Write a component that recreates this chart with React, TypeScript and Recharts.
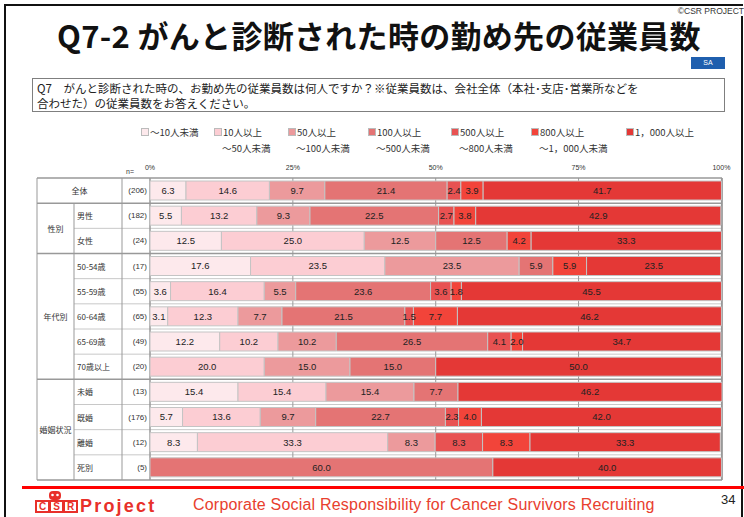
import React from 'react';
import { BarChart, Bar, XAxis, YAxis, CartesianGrid, LabelList } from 'recharts';

// rows of the table (label, n)
const rowLabels = ['全体', '男性', '女性', '50-54歳', '55-59歳', '60-64歳', '65-69歳', '70歳以上', '未婚', '既婚', '離婚', '死別'];
const rowN = [206, 182, 24, 17, 55, 65, 49, 20, 13, 176, 12, 5];

// groups spanning several rows: [label, firstRow, lastRowExclusive]
const groupLabels = ['性別', '年代別', '婚姻状況'];
const groupStart = [1, 3, 8];
const groupEnd = [3, 8, 12];

// percentages per employee-size class
const under10 = [6.3, 5.5, 12.5, 17.6, 3.6, 3.1, 12.2, 0, 15.4, 5.7, 8.3, 0];
const from10 = [14.6, 13.2, 25.0, 23.5, 16.4, 12.3, 10.2, 20.0, 15.4, 13.6, 33.3, 0];
const from50 = [9.7, 9.3, 12.5, 23.5, 5.5, 7.7, 10.2, 15.0, 15.4, 9.7, 8.3, 0];
const from100 = [21.4, 22.5, 12.5, 5.9, 23.6, 21.5, 26.5, 15.0, 7.7, 22.7, 0, 60.0];
const from500 = [2.4, 2.7, 0, 0, 3.6, 1.5, 4.1, 0, 0, 2.3, 8.3, 0];
const from800 = [3.9, 3.8, 4.2, 5.9, 1.8, 7.7, 2.0, 0, 0, 4.0, 8.3, 0];
const over1000 = [41.7, 42.9, 33.3, 23.5, 45.5, 46.2, 34.7, 50.0, 46.2, 42.0, 33.3, 40.0];

const seriesKeys = ['s1', 's2', 's3', 's4', 's5', 's6', 's7'];
const seriesValues = [under10, from10, from50, from100, from500, from800, over1000];
const legendLine1 = ['～10人未満', '10人以上', '50人以上', '100人以上', '500人以上', '800人以上', '1，000人以上'];
const legendLine2 = ['', '～50人未満', '～100人未満', '～500人未満', '～800人未満', '～1，000人未満', ''];
const xTicks = [0, 25, 50, 75, 100];

const COLORS = ['#fde9ec', '#fccdd3', '#ec9a9c', '#e47474', '#e85252', '#f2443a', '#e43836'];
const LEGEND_X = [141, 214, 288, 368, 451, 531, 626];

const JP = '"Noto Sans CJK JP", "Noto Sans", sans-serif';
const NUM = '"Liberation Sans", Arial, sans-serif';
const RED = '#e8302a';

const PLOT_TOP = 178;
const PLOT_BOTTOM = 480;
const PITCH = (PLOT_BOTTOM - PLOT_TOP) / rowLabels.length;

const data = rowLabels.map((label, i) => {
  const row: any = { label };
  seriesKeys.forEach((k, j) => {
    row[k] = seriesValues[j][i];
  });
  return row;
});

const RowTick = ({ y, payload }: any) => {
  const i = rowLabels.indexOf(payload.value);
  return (
    <g>
      <text
        x={i === 0 ? 79.5 : 77}
        y={y}
        textAnchor={i === 0 ? 'middle' : 'start'}
        dominantBaseline="central"
        fontSize={8}
        fontFamily={JP}
        fill="#333"
      >
        {rowLabels[i]}
      </text>
      <text x={147} y={y} textAnchor="end" dominantBaseline="central" fontSize={8} fontFamily={NUM} fill="#333">
        ({rowN[i]})
      </text>
    </g>
  );
};

const TableLines = () => {
  const groupEdges = [0, 1, 3, 8, 12];
  const lines = [];
  for (let i = 0; i <= rowLabels.length; i++) {
    const y = PLOT_TOP + i * PITCH;
    const isGroup = groupEdges.includes(i);
    lines.push(
      <line key={'h' + i} x1={isGroup ? 37 : 74} x2={722} y1={y} y2={y} stroke={isGroup ? '#999' : '#c8c8c8'} strokeWidth={isGroup ? 1.5 : 1} />
    );
  }
  return (
    <svg width={744} height={517} style={{ position: 'absolute', left: 0, top: 0 }}>
      {lines}
      <line x1={37} x2={37} y1={PLOT_TOP} y2={PLOT_BOTTOM} stroke="#999" />
      <line x1={74} x2={74} y1={PLOT_TOP + PITCH} y2={PLOT_BOTTOM} stroke="#999" />
      <line x1={122} x2={122} y1={PLOT_TOP} y2={PLOT_BOTTOM} stroke="#999" />
      <line x1={150} x2={150} y1={PLOT_TOP} y2={PLOT_BOTTOM} stroke="#999" />
      <line x1={722} x2={722} y1={PLOT_TOP} y2={PLOT_BOTTOM} stroke="#999" strokeWidth={1.5} />
      {groupLabels.map((g, i) => (
        <text
          key={g}
          x={55.5}
          y={PLOT_TOP + ((groupStart[i] + groupEnd[i]) / 2) * PITCH}
          textAnchor="middle"
          dominantBaseline="central"
          fontSize={8}
          fontFamily={JP}
          fill="#333"
        >
          {g}
        </text>
      ))}
      <text x={126} y={174} fontSize={7} fontFamily={NUM} fill="#333">n=</text>
    </svg>
  );
};

const ChartLegend = () => (
  <div>
    {legendLine1.map((name, i) => (
      <div key={name} style={{ position: 'absolute', left: LEGEND_X[i], top: 124, fontFamily: JP, fontSize: 9.5, color: '#333', lineHeight: '16px', whiteSpace: 'nowrap' }}>
        <span style={{ display: 'inline-block', width: 6, height: 6, background: COLORS[i], border: '1px solid #bbb', marginRight: 1, verticalAlign: 'middle', position: 'relative', top: -1 }} />
        {name}
        {legendLine2[i] && <div style={{ paddingLeft: 8 }}>{legendLine2[i]}</div>}
      </div>
    ))}
  </div>
);

export default function App() {
  return (
    <div style={{ position: 'absolute', left: 0, top: 0, width: 744, height: 517, background: '#fff', overflow: 'hidden', fontFamily: JP }}>
      {/* slide frame */}
      <div style={{ position: 'absolute', left: 4, top: 4, width: 735, height: 600, border: '2px solid #111' }} />
      <div style={{ position: 'absolute', left: 0, width: 758, top: 15, textAlign: 'center', fontSize: 31, fontWeight: 700, color: '#111', lineHeight: '40px', letterSpacing: 0.3 }}>
        Q7-2 がんと診断された時の勤め先の従業員数
      </div>
      <div style={{ position: 'absolute', right: 0, top: 6, fontSize: 8.5, fontFamily: NUM, color: '#333', background: '#fff', paddingLeft: 2, lineHeight: '10px' }}>©CSR PROJECT</div>
      <div style={{ position: 'absolute', left: 691, top: 57, width: 34, height: 12, background: '#1f5fae', color: '#fff', fontSize: 7, fontFamily: NUM, textAlign: 'center', lineHeight: '12px' }}>SA</div>
      <div style={{ position: 'absolute', left: 32, top: 78, width: 693, height: 34, border: '1px solid #7f7f7f', boxSizing: 'border-box' }} />
      <div style={{ position: 'absolute', left: 37, top: 81, fontSize: 11.5, lineHeight: '14px', color: '#222', whiteSpace: 'nowrap' }}>
        Q7　がんと診断された時の、お勤め先の従業員数は何人ですか？※従業員数は、会社全体（本社･支店･営業所などを
      </div>
      <div style={{ position: 'absolute', left: 37, top: 96, fontSize: 11.5, lineHeight: '14px', color: '#222', whiteSpace: 'nowrap' }}>
        合わせた）の従業員数をお答えください。
      </div>

      <ChartLegend />
      <TableLines />

      <div style={{ position: 'absolute', left: 0, top: 0 }}>
        <BarChart
          width={744}
          height={517}
          data={data}
          layout="vertical"
          margin={{ top: 166, right: 22, bottom: 37, left: 37 }}
          barSize={19}
        >
          <CartesianGrid horizontal={false} stroke="#999" />
          <XAxis
            type="number"
            orientation="top"
            domain={[0, 100]}
            ticks={xTicks}
            tickFormatter={(v: number) => v + '%'}
            axisLine={false}
            tickLine={false}
            height={12}
            tick={{ fontSize: 7, fill: '#333', fontFamily: NUM }}
          />
          <YAxis type="category" dataKey="label" width={113} axisLine={false} tickLine={false} tick={<RowTick />} interval={0} />
          {seriesKeys.map((k, j) => (
            <Bar key={k} dataKey={k} stackId="a" fill={COLORS[j]} stroke="#c4c4c4" strokeWidth={1} isAnimationActive={false}>
              <LabelList
                dataKey={k}
                position="center"
                formatter={(v: any) => (Number(v) > 0 ? Number(v).toFixed(1) : '')}
                fill="#222"
                fontSize={9.5}
                fontFamily={NUM}
              />
            </Bar>
          ))}
        </BarChart>
      </div>

      {/* footer */}
      <div style={{ position: 'absolute', left: 22, top: 486, width: 722, height: 3, background: '#ff0000' }} />
      <svg width={140} height={30} style={{ position: 'absolute', left: 30, top: 487 }}>
        <rect x={19} y={4} width={12} height={9} rx={4} fill={RED} />
        <circle cx={22.5} cy={8} r={1.3} fill="#fff" />
        <circle cx={27.5} cy={8} r={1.3} fill="#fff" />
        <rect x={6} y={14} width={13} height={11} fill="none" stroke={RED} strokeWidth={2} />
        <rect x={20} y={14} width={13} height={11} fill="none" stroke={RED} strokeWidth={2} />
        <rect x={34} y={14} width={13} height={11} fill="none" stroke={RED} strokeWidth={2} />
        <text x={12.5} y={23} textAnchor="middle" fontSize={10} fontWeight={700} fill={RED} fontFamily={NUM}>C</text>
        <text x={26.5} y={23} textAnchor="middle" fontSize={10} fontWeight={700} fill={RED} fontFamily={NUM}>S</text>
        <text x={40.5} y={23} textAnchor="middle" fontSize={10} fontWeight={700} fill={RED} fontFamily={NUM}>R</text>
        <text x={50} y={25} fontSize={18} fontWeight={700} fill={RED} fontFamily={NUM} letterSpacing={2.2}>Project</text>
      </svg>
      <div style={{ position: 'absolute', left: 193, top: 496, fontSize: 16, lineHeight: '18px', fontFamily: NUM, color: '#e8402e', whiteSpace: 'nowrap', letterSpacing: 0.2 }}>
        Corporate Social Responsibility for Cancer Survivors Recruiting
      </div>
      <div style={{ position: 'absolute', left: 721, top: 492, fontSize: 13, lineHeight: '15px', fontFamily: NUM, color: '#222' }}>34</div>
    </div>
  );
}
